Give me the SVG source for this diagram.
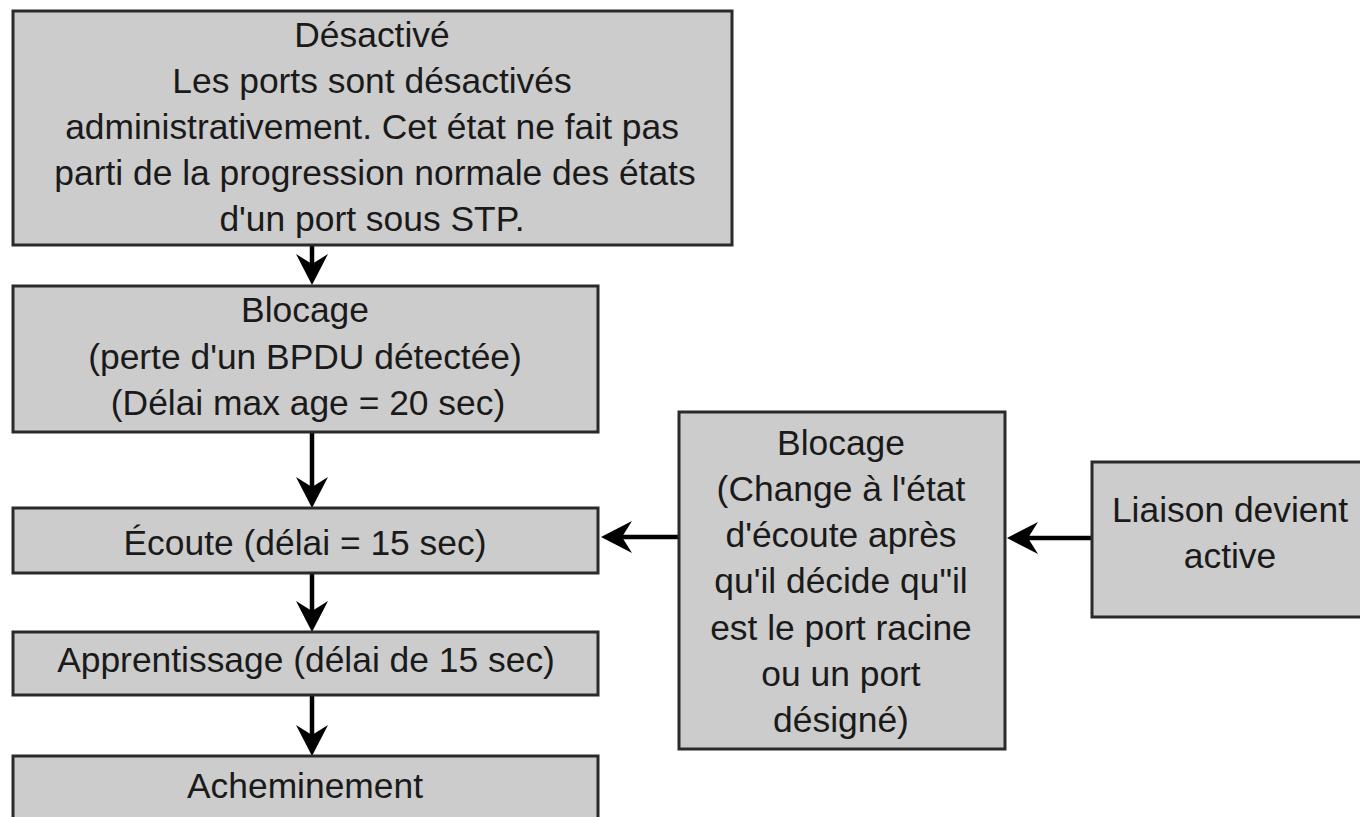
<svg xmlns="http://www.w3.org/2000/svg" width="1360" height="817" viewBox="0 0 1360 817">
<style>
.box{fill:#cccccc;stroke:#2a2a2a;stroke-width:3}
.t{font-family:"Liberation Sans",Arial,sans-serif;font-size:35.4px;fill:#1a1a1a;text-anchor:middle}
.c{stroke:#000;stroke-width:4.5;fill:none}
</style>
<defs>
<marker id="ah" markerUnits="userSpaceOnUse" viewBox="-31 -17 32 34" refX="-21" refY="0" markerWidth="32" markerHeight="34" orient="auto">
<path d="M0,0 L-31,-16 L-21,0 L-31,16 Z" fill="#000"/>
</marker>
</defs>
<rect width="1360" height="817" fill="#fff"/>
<g id="connectors">
<line class="c" x1="312" y1="246" x2="312" y2="264" marker-end="url(#ah)"/>
<line class="c" x1="312" y1="433" x2="312" y2="487" marker-end="url(#ah)"/>
<line class="c" x1="312" y1="574" x2="312" y2="611" marker-end="url(#ah)"/>
<line class="c" x1="312" y1="696" x2="312" y2="735" marker-end="url(#ah)"/>
<line class="c" x1="678" y1="537" x2="622" y2="537" marker-end="url(#ah)"/>
<line class="c" x1="1091" y1="538" x2="1028" y2="538" marker-end="url(#ah)"/>
</g>
<g id="desactive">
<rect class="box" x="13" y="11" width="719" height="234"/>
<text class="t" x="372" y="47">Désactivé</text>
<text class="t" x="372" y="93">Les ports sont désactivés</text>
<text class="t" x="372" y="139">administrativement. Cet état ne fait pas</text>
<text class="t" x="375" y="185">parti de la progression normale des états</text>
<text class="t" x="372" y="231">d'un port sous STP.</text>
</g>
<g id="blocage1">
<rect class="box" x="13" y="286" width="585" height="146"/>
<text class="t" x="305" y="322">Blocage</text>
<text class="t" x="305" y="369">(perte d'un BPDU détectée)</text>
<text class="t" x="308" y="415">(Délai max age = 20 sec)</text>
</g>
<g id="ecoute">
<rect class="box" x="13" y="508" width="585" height="65"/>
<text class="t" x="305" y="555">Écoute (délai = 15 sec)</text>
</g>
<g id="apprentissage">
<rect class="box" x="13" y="632" width="585" height="63"/>
<text class="t" x="306" y="672">Apprentissage (délai de 15 sec)</text>
</g>
<g id="acheminement">
<rect class="box" x="13" y="756" width="585" height="90"/>
<text class="t" x="305" y="798">Acheminement</text>
</g>
<g id="blocage2">
<rect class="box" x="679" y="412" width="326" height="337"/>
<text class="t" x="841" y="455">Blocage</text>
<text class="t" x="841" y="501">(Change à l'état</text>
<text class="t" x="841" y="547">d'écoute après</text>
<text class="t" x="841" y="593">qu'il décide qu"il</text>
<text class="t" x="841" y="640">est le port racine</text>
<text class="t" x="841" y="686">ou un port</text>
<text class="t" x="841" y="732">désigné)</text>
</g>
<g id="liaison">
<rect class="box" x="1092" y="462" width="290" height="155"/>
<text class="t" x="1230" y="522">Liaison devient</text>
<text class="t" x="1230" y="568">active</text>
</g>
</svg>
